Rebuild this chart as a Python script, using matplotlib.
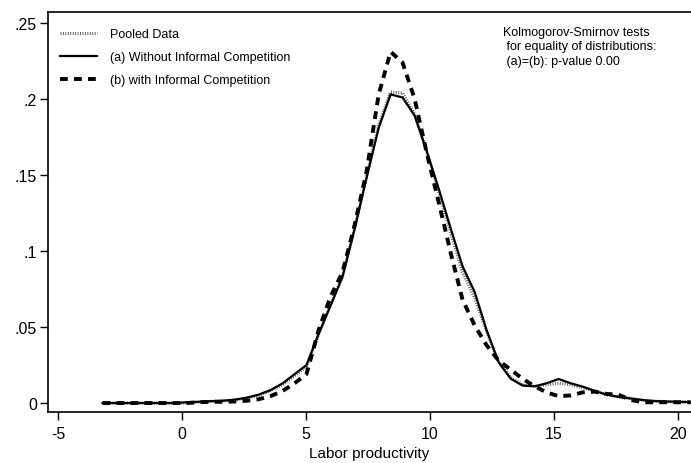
import matplotlib
matplotlib.use("Agg")
import matplotlib.pyplot as plt

plt.rcParams['font.family'] = ['Liberation Sans', 'DejaVu Sans']

# Evaluation grid (labor productivity)
x_grid = [-3.20, -2.72, -2.23, -1.75, -1.26, -0.78, -0.30, 0.19, 0.67, 1.15,
          1.64, 2.12, 2.60, 3.09, 3.57, 4.06, 4.54, 5.02, 5.51, 5.99,
          6.47, 6.96, 7.44, 7.93, 8.41, 8.89, 9.38, 9.86, 10.35, 10.83,
          11.31, 11.80, 12.28, 12.76, 13.25, 13.73, 14.22, 14.70, 15.18, 15.67,
          16.15, 16.64, 17.12, 17.60, 18.09, 18.57, 19.05, 19.54, 20.02, 20.50]

pooled = [0.0, 0.0, 0.0, 0.0, 0.0, 0.0, 0.0, 0.0, 0.0007, 0.0011,
          0.0014, 0.002, 0.003, 0.005, 0.008, 0.012, 0.018, 0.024, 0.045, 0.065,
          0.083, 0.115, 0.149, 0.183, 0.2045, 0.204, 0.190, 0.166, 0.139, 0.112,
          0.086, 0.069, 0.047, 0.027, 0.017, 0.012, 0.011, 0.012, 0.013, 0.012,
          0.010, 0.008, 0.0055, 0.004, 0.003, 0.0018, 0.0012, 0.0009, 0.0007, 0.0005]

without_ic = [0.0, 0.0, 0.0, 0.0, 0.0, 0.0, 0.0, 0.0005, 0.0008, 0.0012,
              0.0015, 0.0022, 0.0035, 0.0055, 0.0085, 0.013, 0.019, 0.025, 0.0455, 0.064,
              0.083, 0.1145, 0.148, 0.181, 0.203, 0.201, 0.189, 0.166, 0.141, 0.115,
              0.090, 0.073, 0.048, 0.027, 0.016, 0.0115, 0.011, 0.013, 0.0158, 0.013,
              0.0108, 0.008, 0.0055, 0.004, 0.003, 0.002, 0.0013, 0.001, 0.0008, 0.0006]

with_ic = [0.0, 0.0, 0.0, 0.0, 0.0, 0.0, 0.0, 0.0, 0.0005, 0.0008,
           0.0008, 0.001, 0.0015, 0.0025, 0.0045, 0.008, 0.013, 0.019, 0.048, 0.070,
           0.086, 0.117, 0.152, 0.203, 0.231, 0.224, 0.200, 0.165, 0.132, 0.099,
           0.068, 0.051, 0.038, 0.028, 0.022, 0.016, 0.011, 0.007, 0.0045, 0.005,
           0.007, 0.0075, 0.006, 0.0055, 0.002, 0.0005, 0.0005, 0.0005, 0.0005, 0.0005]

series_labels = ["Pooled Data", "(a) Without Informal Competition", "(b) with Informal Competition"]
x_ticks = [-5, 0, 5, 10, 15, 20]
y_ticks = [0, 0.05, 0.1, 0.15, 0.2, 0.25]
y_tick_labels = ["0", ".05", ".1", ".15", ".2", ".25"]

fig = plt.figure(figsize=(6.91, 4.64), dpi=100)
ax = fig.add_axes([48/691, 1 - 413/464, 1 - 48/691, (413 - 13)/464])

ax.plot(x_grid, pooled, color='#555555', lw=2.2, dashes=(0.3, 0.5),
        label=series_labels[0], zorder=2)
ax.plot(x_grid, without_ic, color='black', lw=1.6, label=series_labels[1], zorder=3)
ax.plot(x_grid, with_ic, color='black', lw=2.8, dashes=(2.0, 1.6),
        label=series_labels[2], zorder=4)

ax.set_xlim(-5.40, 20.52)
ax.set_ylim(-0.0059, 0.2572)
ax.set_xticks(x_ticks)
ax.set_xticklabels([str(t) for t in x_ticks])
ax.set_yticks(y_ticks)
ax.set_yticklabels(y_tick_labels)
ax.tick_params(axis='both', direction='out', length=6, width=1, labelsize=11.5, pad=2)
ax.tick_params(axis='x', pad=4)
ax.set_xlabel("Labor productivity", fontsize=11, labelpad=4)

for s in ['left', 'bottom', 'top']:
    ax.spines[s].set_linewidth(1.2)
ax.spines['right'].set_visible(False)

leg = ax.legend(loc='upper left', bbox_to_anchor=(0.005, 0.982), frameon=False,
                fontsize=9, handlelength=3.0, handletextpad=1.0, labelspacing=0.88,
                borderaxespad=0.3)

ax.text((503 - 48) / (691 - 48), (413 - 27) / 400,
        "Kolmogorov-Smirnov tests\n for equality of distributions:\n (a)=(b): p-value 0.00",
        transform=ax.transAxes, ha='left', va='top', fontsize=9, linespacing=1.25)

fig.savefig("out.png", dpi=100)
